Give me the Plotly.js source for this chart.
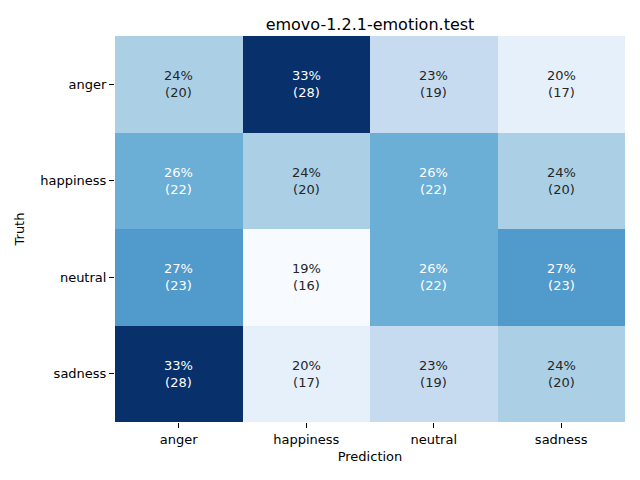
<!DOCTYPE html>
<html>
<head>
<meta charset="utf-8">
<script src="https://cdn.plot.ly/plotly-3.0.1.min.js"></script>
<style>html,body{margin:0;padding:0;background:#fff}#chart{width:640px;height:480px}</style>
</head>
<body>
<div id="chart"></div>
<script>
const predLabels = ["anger", "happiness", "neutral", "sadness"];
const truthLabels = ["anger", "happiness", "neutral", "sadness"];
const counts = [
  [20, 28, 19, 17],
  [22, 20, 22, 20],
  [23, 16, 22, 23],
  [28, 17, 19, 20]
];

const blues = [
  [0.0, "#f7fbff"], [0.125, "#deebf7"], [0.25, "#c6dbef"], [0.375, "#9ecae1"],
  [0.5, "#6baed6"], [0.625, "#4292c6"], [0.75, "#2171b5"], [0.875, "#08519c"], [1.0, "#08306b"]
];

const flat = counts.flat();
const zmin = Math.min(...flat), zmax = Math.max(...flat);

const annotations = [];
counts.forEach((row, i) => {
  const total = row.reduce((a, b) => a + b, 0);
  row.forEach((v, j) => {
    const pct = Math.round(v / total * 100);
    annotations.push({
      x: predLabels[j], y: truthLabels[i], xref: "x", yref: "y",
      text: pct + "%<br>(" + v + ")",
      showarrow: false,
      font: {family: "DejaVu Sans", size: 13, color: (v - zmin) / (zmax - zmin) >= 0.5 ? "#ffffff" : "#262626"}
    });
  });
});

const data = [{
  type: "heatmap",
  x: predLabels,
  y: truthLabels,
  z: counts,
  zmin: zmin, zmax: zmax,
  colorscale: blues,
  showscale: false,
  hoverinfo: "none",
  xgap: 0, ygap: 0
}];

const layout = {
  width: 640, height: 480,
  margin: {l: 115, r: 15, t: 36, b: 58},
  paper_bgcolor: "#ffffff",
  plot_bgcolor: "#ffffff",
  font: {family: "DejaVu Sans", size: 13, color: "#000"},
  title: {text: "emovo-1.2.1-emotion.test", font: {family: "DejaVu Sans", size: 16, color: "#000"}, xref: "paper", x: 0.5, xanchor: "center", yref: "container", y: 0.95, yanchor: "middle"},
  xaxis: {
    title: {text: "Prediction", font: {size: 13}, standoff: 6},
    ticks: "outside", ticklen: 5, tickcolor: "#000", showgrid: false, zeroline: false,
    showline: false, tickfont: {size: 13}
  },
  yaxis: {
    title: {text: "Truth", font: {size: 13}, standoff: 12},
    autorange: "reversed",
    ticks: "outside", ticklen: 5, tickcolor: "#000", showgrid: false, zeroline: false,
    showline: false, tickfont: {size: 13}
  },
  annotations: annotations
};

Plotly.newPlot("chart", data, layout, {displayModeBar: false, staticPlot: true});
</script>
</body>
</html>
